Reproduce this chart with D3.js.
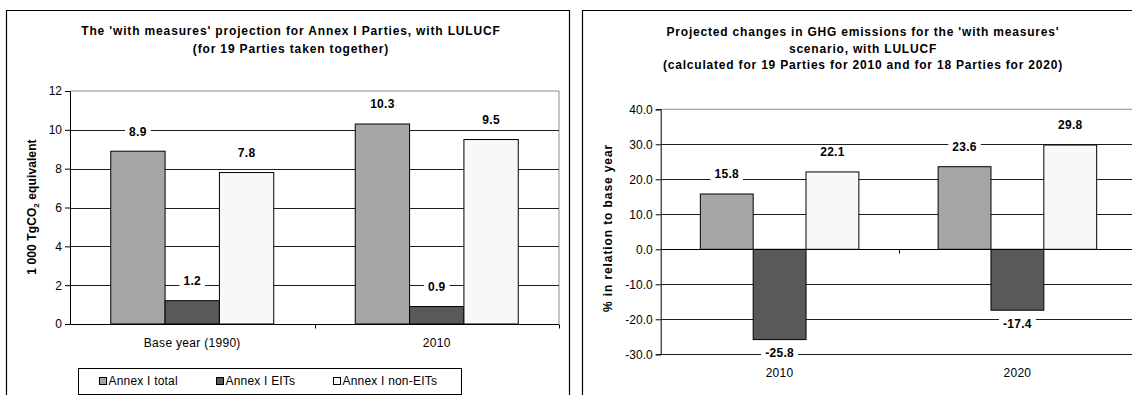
<!DOCTYPE html>
<html>
<head>
<meta charset="utf-8">
<script src="https://cdn.jsdelivr.net/npm/d3@7/dist/d3.min.js"></script>
<style>
  html, body { margin: 0; padding: 0; background: #fff; }
  svg { display: block; font-family: "Liberation Sans", Arial, sans-serif; }
</style>
</head>
<body>
<svg id="chart" width="1132" height="395"></svg>
<script>
// ---- Data ----
const seriesNames = ["Annex I total", "Annex I EITs", "Annex I non-EITs"];
const seriesColors = ["#a6a6a6", "#595959", "#f8f8f8"];

// Left panel: absolute emissions (1 000 Tg CO2 eq.)
const categoriesLeft = ["Base year (1990)", "2010"];
const totalLeft = [8.9, 10.3];
const eitLeft = [1.2, 0.9];
const nonEitLeft = [7.8, 9.5];
const ticksLeft = [0, 2, 4, 6, 8, 10, 12];

// Right panel: change relative to base year (%)
const categoriesRight = ["2010", "2020"];
const totalRight = [15.8, 23.6];
const eitRight = [-25.8, -17.4];
const nonEitRight = [22.1, 29.8];
const ticksRight = [40, 30, 20, 10, 0, -10, -20, -30];

const svg = d3.select("#chart");

function fmt1(v) { return v.toFixed(1); }

function drawPanel(opt) {
  const g = svg.append("g");
  const x0 = d3.scaleBand().domain(opt.categories).range(opt.xRange).paddingInner(0).paddingOuter(0);
  const barW = x0.bandwidth() / 4.5;
  const x1 = d3.scaleBand().domain(seriesNames).range([0, barW * 3]);
  const y = d3.scaleLinear().domain(opt.yDomain).range(opt.yRange);

  const left = opt.xRange[0], right = opt.plotRight;
  const top = y(opt.yDomain[1]), bottom = y(opt.yDomain[0]);

  // outer frame
  g.append("path")
    .attr("d", `M${opt.frame[0]},400 V${opt.frame[1]} H${opt.frame[2]} V400`)
    .attr("fill", "none").attr("stroke", "#000").attr("stroke-width", 1.2);

  // plot area border
  g.append("path")
    .attr("d", `M${left},${top} H${right} V${bottom}`)
    .attr("fill", "none").attr("stroke", "#8c8c8c").attr("stroke-width", 1);

  // gridlines
  g.selectAll(".grid").data(opt.ticks.filter(t => t !== opt.yDomain[1] && t !== opt.zero))
    .enter().append("line")
    .attr("x1", left).attr("x2", right)
    .attr("y1", d => Math.round(y(d)) + 0.5).attr("y2", d => Math.round(y(d)) + 0.5)
    .attr("stroke", "#1e1e1e").attr("stroke-width", 1);

  // bars
  const rows = opt.categories.map((c, i) => opt.values.map((arr, s) => ({ cat: c, s, v: arr[i] })));
  const groups = g.selectAll(".grp").data(rows).enter().append("g")
    .attr("transform", d => `translate(${x0(d[0].cat) + barW * 0.75},0)`);
  groups.selectAll("rect").data(d => d).enter().append("rect")
    .attr("x", d => x1(seriesNames[d.s]))
    .attr("width", barW)
    .attr("y", d => y(Math.max(0, d.v)))
    .attr("height", d => Math.abs(y(d.v) - y(0)))
    .attr("fill", d => seriesColors[d.s])
    .attr("stroke", "#000").attr("stroke-width", 1);

  // value labels with white backing
  const lab = groups.selectAll(".lab").data(d => d).enter().append("g")
    .attr("transform", d => {
      const cx = x1(seriesNames[d.s]) + barW / 2;
      const cy = d.v >= 0 ? y(d.v) - 20 : y(d.v) + 13.5;
      return `translate(${cx},${cy})`;
    });
  lab.append("text")
    .attr("text-anchor", "middle").attr("dy", "0.36em")
    .attr("font-size", 12).attr("font-weight", "bold").attr("fill", "#000")
    .attr("letter-spacing", 0.3)
    .text(d => fmt1(d.v));
  lab.each(function () {
    const t = d3.select(this).select("text");
    const b = t.node().getBBox();
    d3.select(this).insert("rect", "text")
      .attr("x", b.x - 4).attr("y", b.y).attr("width", b.width + 8).attr("height", b.height)
      .attr("fill", "#fff");
  });

  // value axis
  const yAxis = d3.axisLeft(y).tickValues(opt.ticks).tickSize(5).tickPadding(3)
    .tickFormat(opt.tickFormat);
  const ya = g.append("g").attr("transform", `translate(${left},0)`).call(yAxis);
  ya.select(".domain").attr("stroke", "#000");
  ya.selectAll(".tick line").attr("stroke", "#000");
  ya.selectAll("text").attr("font-size", 12).attr("fill", "#000")
    .attr("font-family", "Liberation Sans, Arial, sans-serif");

  // category axis at zero
  const z = Math.round(y(opt.zero)) + 0.5;
  g.append("line").attr("x1", left).attr("x2", right).attr("y1", z).attr("y2", z)
    .attr("stroke", "#000");
  const catTicks = opt.categories.map(c => x0(c)).slice(1).concat([opt.xRange[1]]);
  g.selectAll(".ctick").data(catTicks).enter().append("line")
    .attr("x1", d => Math.round(d) + 0.5).attr("x2", d => Math.round(d) + 0.5)
    .attr("y1", z).attr("y2", z + 4).attr("stroke", "#000");

  // category labels
  g.selectAll(".clab").data(opt.categories).enter().append("text")
    .attr("x", d => x0(d) + x0.bandwidth() / 2).attr("y", opt.catLabelY)
    .attr("text-anchor", "middle").attr("dy", "0.36em")
    .attr("font-size", 12).attr("letter-spacing", 0.3).attr("fill", "#000").text(d => d);

  // title
  opt.title.forEach((line, i) => {
    g.append("text").attr("x", opt.titleX).attr("y", opt.titleY + i * opt.titleStep)
      .attr("text-anchor", "middle").attr("dy", "0.36em")
      .attr("font-size", 12).attr("letter-spacing", opt.titleSpacing)
      .attr("font-weight", "bold").attr("fill", "#000").text(line);
  });

  // y title
  const yt = g.append("text")
    .attr("transform", `translate(${opt.yTitle[0]},${opt.yTitle[1]}) rotate(-90)`)
    .attr("text-anchor", "middle").attr("dy", "0.36em")
    .attr("font-size", 12).attr("letter-spacing", opt.yTitleSpacing)
    .attr("font-weight", "bold").attr("fill", "#000");
  opt.yTitleParts.forEach(p => {
    const ts = yt.append("tspan").text(p.t);
    if (p.sub) ts.attr("font-size", 8).attr("dy", "3");
    if (p.after) ts.attr("dy", "-3");
  });
  return { x0, x1, y };
}

drawPanel({
  categories: categoriesLeft,
  values: [totalLeft, eitLeft, nonEitLeft],
  xRange: [70, 559], plotRight: 559,
  yDomain: [0, 12], yRange: [324, 91], zero: 0,
  ticks: ticksLeft, tickFormat: d3.format("d"),
  frame: [6.5, 10.5, 569.5],
  catLabelY: 343,
  title: ["The 'with measures' projection for Annex I Parties, with LULUCF",
          "(for 19 Parties taken together)"],
  titleX: 291, titleY: 31, titleStep: 17.5, titleSpacing: 0.85,
  yTitle: [32, 207], yTitleSpacing: 0.1,
  yTitleParts: [{ t: "1 000 TgCO" }, { t: "2", sub: true }, { t: " equivalent", after: true }]
});

drawPanel({
  categories: categoriesRight,
  values: [totalRight, eitRight, nonEitRight],
  xRange: [660.7, 1136.3], plotRight: 1140,
  yDomain: [-30, 40], yRange: [354.3, 109.3], zero: 0,
  ticks: ticksRight, tickFormat: fmt1,
  frame: [582.5, 10.5, 1140],
  catLabelY: 373,
  title: ["Projected changes in GHG emissions for the 'with measures'",
          "scenario, with LULUCF",
          "(calculated for 19 Parties for 2010 and for 18 Parties for 2020)"],
  titleX: 863, titleY: 32, titleStep: 16.3, titleSpacing: 0.8,
  yTitle: [607.5, 228], yTitleSpacing: 0.9,
  yTitleParts: [{ t: "% in relation to base year" }]
});

// legend (left panel)
const legend = svg.append("g");
legend.append("rect").attr("x", 78.5).attr("y", 368.5).attr("width", 383).attr("height", 26)
  .attr("fill", "#fff").attr("stroke", "#000");
const legendX = [99.5, 216.5, 333.5];
const li = legend.selectAll(".li").data(seriesNames).enter().append("g")
  .attr("transform", (d, i) => `translate(${legendX[i]},381)`);
li.append("rect").attr("x", 0).attr("y", -3.5).attr("width", 7).attr("height", 7)
  .attr("fill", (d, i) => seriesColors[i]).attr("stroke", "#000");
li.append("text").attr("x", 9).attr("dy", "0.36em").attr("font-size", 12)
  .attr("letter-spacing", 0.2).attr("fill", "#000")
  .text(d => d);
</script>
</body>
</html>
